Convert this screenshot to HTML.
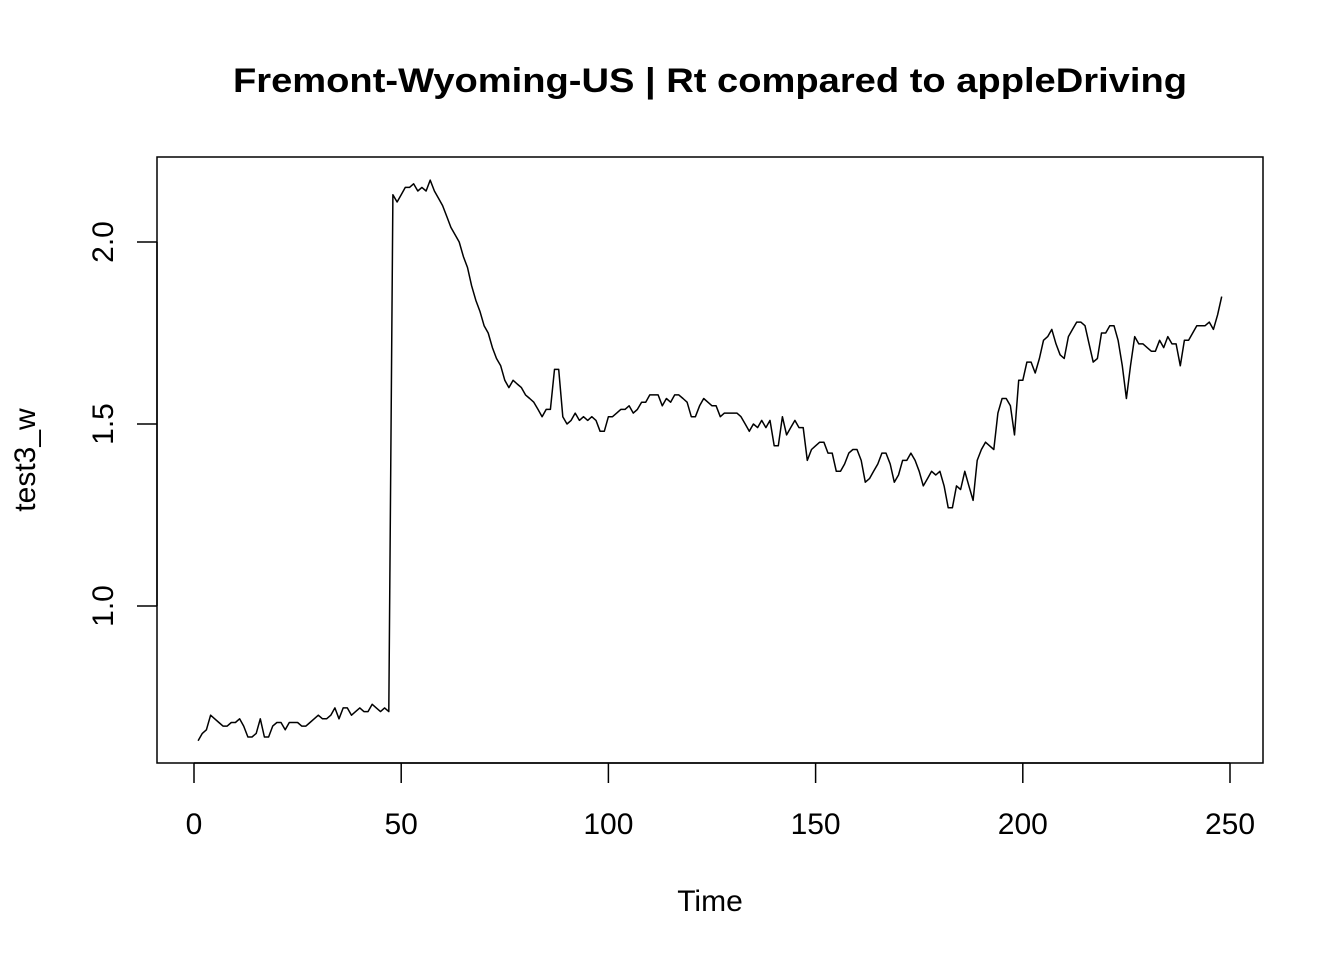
<!DOCTYPE html>
<html><head><meta charset="utf-8"><style>
body{margin:0;background:#fff;}
svg text{font-family:"Liberation Sans",Arial,sans-serif;}
</style></head><body>
<svg id="chart" width="1344" height="960" xmlns="http://www.w3.org/2000/svg">
<text x="710" y="92" font-size="34" font-weight="bold" text-anchor="middle" textLength="954" lengthAdjust="spacingAndGlyphs">Fremont-Wyoming-US | Rt compared to appleDriving</text>
<rect x="157" y="157" width="1106" height="606" fill="none" stroke="#000" stroke-width="1.5"/>
<text x="710" y="911" font-size="30" text-anchor="middle">Time</text>
<text transform="translate(35,460) rotate(-90)" font-size="30" text-anchor="middle">test3_w</text>
<g id="xaxis"></g>
<g id="yaxis"></g>
<g id="series"></g>
</svg>
<script>
const xTicks=[0,50,100,150,200,250];
const yTicks=[1.0,1.5,2.0];
const yTickLabels=["1.0","1.5","2.0"];
const values=[0.63,0.65,0.66,0.70,0.69,0.68,0.67,0.67,0.68,0.68,0.69,0.67,0.64,0.64,0.65,0.69,0.64,0.64,0.67,0.68,
0.68,0.66,0.68,0.68,0.68,0.67,0.67,0.68,0.69,0.70,0.69,0.69,0.70,0.72,0.69,0.72,0.72,0.70,0.71,
0.72,0.71,0.71,0.73,0.72,0.71,0.72,0.71,2.13,2.11,2.13,2.15,2.15,2.16,2.14,2.15,2.14,2.17,2.14,2.12,
2.10,2.07,2.04,2.02,2.00,1.96,1.93,1.88,1.84,1.81,1.77,1.75,1.71,1.68,1.66,1.62,1.60,1.62,1.61,1.60,
1.58,1.57,1.56,1.54,1.52,1.54,1.54,1.65,1.65,1.52,1.50,1.51,1.53,1.51,1.52,1.51,1.52,1.51,1.48,1.48,
1.52,1.52,1.53,1.54,1.54,1.55,1.53,1.54,1.56,1.56,1.58,1.58,1.58,1.55,1.57,1.56,1.58,1.58,1.57,1.56,
1.52,1.52,1.55,1.57,1.56,1.55,1.55,1.52,1.53,1.53,1.53,1.53,1.52,1.50,1.48,1.50,1.49,1.51,1.49,1.51,
1.44,1.44,1.52,1.47,1.49,1.51,1.49,1.49,1.40,1.43,1.44,1.45,1.45,1.42,1.42,1.37,1.37,1.39,1.42,1.43,
1.43,1.40,1.34,1.35,1.37,1.39,1.42,1.42,1.39,1.34,1.36,1.40,1.40,1.42,1.40,1.37,1.33,1.35,1.37,1.36,
1.37,1.33,1.27,1.27,1.33,1.32,1.37,1.33,1.29,1.40,1.43,1.45,1.44,1.43,1.53,1.57,1.57,1.55,1.47,1.62,
1.62,1.67,1.67,1.64,1.68,1.73,1.74,1.76,1.72,1.69,1.68,1.74,1.76,1.78,1.78,1.77,1.72,1.67,1.68,1.75,
1.75,1.77,1.77,1.73,1.66,1.57,1.66,1.74,1.72,1.72,1.71,1.70,1.70,1.73,1.71,1.74,1.72,1.72,1.66,1.73,
1.73,1.75,1.77,1.77,1.77,1.78,1.76,1.80,1.85];
const NS="http://www.w3.org/2000/svg";
function xs(t){return 194+(t/250)*(1230-194);}
function ys(v){return 242+(2-v)*364;}
const xg=document.getElementById('xaxis');
const yg=document.getElementById('yaxis');
function mk(tag,attrs,parent){const e=document.createElementNS(NS,tag);for(const k in attrs)e.setAttribute(k,attrs[k]);parent.appendChild(e);return e;}
let l=mk('line',{x1:xs(xTicks[0]),x2:xs(xTicks[xTicks.length-1]),y1:763,y2:763,stroke:'#000','stroke-width':1.5},xg);


xTicks.forEach(t=>{
  const tk=mk('line',{x1:xs(t),x2:xs(t),y1:763,y2:783,stroke:'#000','stroke-width':1.5},xg);
  
  
  const tx=mk('text',{x:xs(t),y:834,'font-size':30,'text-anchor':'middle'},xg);
  tx.textContent=String(t);
  
  
});
let l2=mk('line',{x1:157,x2:157,y1:ys(yTicks[0]),y2:ys(yTicks[yTicks.length-1]),stroke:'#000','stroke-width':1.5},yg);


yTicks.forEach((v,i)=>{
  const tk=mk('line',{x1:137,x2:157,y1:ys(v),y2:ys(v),stroke:'#000','stroke-width':1.5},yg);
  
  
  const tx=mk('text',{transform:`translate(113,${ys(v)}) rotate(-90)`,'font-size':30,'text-anchor':'middle'},yg);
  tx.textContent=yTickLabels[i];
  
  
});
const pts=values.map((v,i)=>xs(i+1).toFixed(1)+','+ys(v).toFixed(1)).join(' ');
const pl=mk('polyline',{points:pts,fill:'none',stroke:'#000','stroke-width':1.5,'stroke-linejoin':'round'},document.getElementById('series'));


</script>
</body></html>
